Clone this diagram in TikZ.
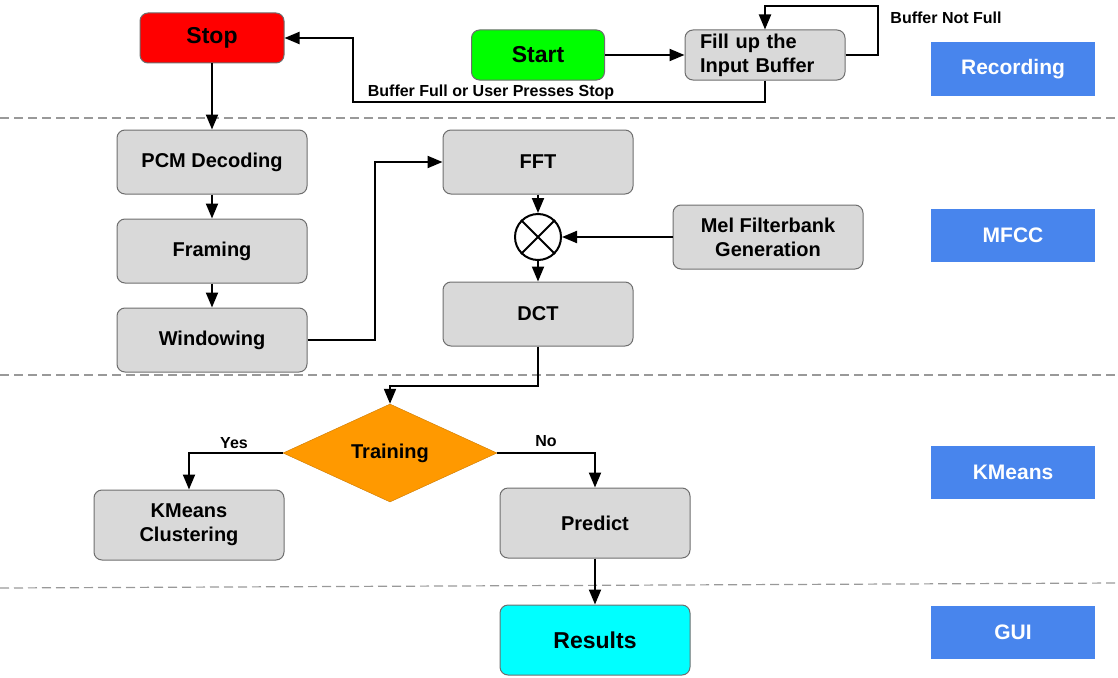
\documentclass[tikz,border=0pt]{standalone}
\usepackage{fontspec}
\setmainfont{Liberation Sans}
\usepackage{xcolor}
\definecolor{BoxGray}{RGB}{217,217,217}
\definecolor{EdgeGray}{RGB}{110,110,110}
\definecolor{StopRed}{RGB}{255,0,0}
\definecolor{StartGreen}{RGB}{0,255,0}
\definecolor{ResultCyan}{RGB}{0,255,255}
\definecolor{TrainOrange}{RGB}{255,153,0}
\definecolor{StageBlue}{RGB}{72,133,237}
\usetikzlibrary{shapes,arrows.meta,positioning}
\tikzstyle{block} = [rectangle, draw=EdgeGray, fill=BoxGray, line width=1pt,
    align=center, rounded corners=8pt, minimum width=190pt, minimum height=64pt,
    font=\fontsize{20}{24}\selectfont\bfseries]
\tikzstyle{cond} = [diamond, draw=TrainOrange!80!black, fill=TrainOrange,
    minimum width=214pt, minimum height=98pt, inner sep=0pt,
    font=\fontsize{20}{24}\selectfont\bfseries]
\tikzstyle{stage} = [rectangle, fill=StageBlue, text=white,
    minimum width=164pt, minimum height=53pt, font=\fontsize{21}{24}\selectfont\bfseries]
\tikzstyle{note} = [font=\fontsize{16}{18}\selectfont\bfseries]
\tikzstyle{sep} = [draw=gray!80, dash pattern=on 9pt off 5pt, line width=1.2pt]
\tikzstyle{line} = [draw, -{Triangle[length=15pt,width=12pt]}, line width=2pt]

\begin{document}
\begin{tikzpicture}[x=1pt, y=-1pt, node distance = 24pt]
  \useasboundingbox (0,0) rectangle (1118,677);
  % recording
  \node [block, fill=StopRed, minimum width=144pt, minimum height=50pt,
    font=\fontsize{23}{26}\selectfont\bfseries] (Stop) at (212,38) {Stop};
  \node [block, fill=StartGreen, minimum width=133pt, minimum height=50pt,
    font=\fontsize{23}{26}\selectfont\bfseries] (Start) at (538,55) {Start};
  \node [block, minimum width=160pt, minimum height=50pt, align=left,
    text width=130pt] (Fill) at (765,55) {Fill up the\\Input Buffer};
  \coordinate (loopR) at (878,6);
  \coordinate (fullL) at (353,102);
  \path [line] (Start) -- (Fill);
  \path [line] (Fill.east) -| (loopR) -| (Fill.north);
  \node [note] at (946,18) {Buffer Not Full};
  \path [line] (Fill.south) |- (fullL) |- (Stop.east);
  \node [note] at (491,92) {Buffer Full or User Presses Stop};
  %
  \path [sep] (0,118) -- (1118,118);
  % mfcc
  \node [block] (PCM) at (212,162) {PCM Decoding};
  \node [block, below = of PCM] (Framing) {Framing};
  \node [block, below = of Framing] (Windowing) {Windowing};
  \node [block] (FFT) at (538,162) {FFT};
  \node [block, below = 87pt of FFT] (DCT) {DCT};
  \node [circle, draw, line width=2pt, minimum size=46pt] (Mult) at (538,237) {};
  \draw [line width=2pt] (Mult.north west) -- (Mult.south east)
    (Mult.north east) -- (Mult.south west);
  \node [block] (Mel) at (768,237) {Mel Filterbank\\Generation};
  \path [line] (Stop) -- (PCM);
  \path [line] (PCM) -- (Framing);
  \path [line] (Framing) -- (Windowing);
  \path [line] (Windowing.east) -- ++(67,0) |- (FFT.west);
  \path [line] (FFT) -- (Mult);
  \path [line] (Mel) -- (Mult);
  \path [line] (Mult) -- (DCT);
  %
  \path [sep] (0,375) -- (1118,375);
  % kmeans
  \node [cond] (Train) at (390,453) {Training};
  \node [block, minimum height=70pt] (Cluster) at (189,525) {KMeans\\Clustering};
  \node [block, minimum height=70pt] (Predict) at (595,523) {Predict};
  \path [line] (DCT.south) -- ++(0,39) -| (Train.north);
  \path [line] (Train.west) -| node[note, pos=0.26, above]{Yes} (Cluster.north);
  \path [line] (Train.east) -| node[note, pos=0.25, above=2pt]{No} (Predict.north);
  %
  \path [sep] (0,588) -- (1118,583);
  % gui
  \node [block, fill=ResultCyan, minimum height=70pt,
    font=\fontsize{23}{26}\selectfont\bfseries] (Results) at (595,640) {Results};
  \path [line] (Predict) -- (Results);
  %
  \node [stage] (Recording) at (1013,69) {Recording};
  \node [stage] (MFCC) at (1013,235) {MFCC};
  \node [stage] (KMeans) at (1013,472) {KMeans};
  \node [stage] (GUI) at (1013,632) {GUI};
\end{tikzpicture}
\end{document}
